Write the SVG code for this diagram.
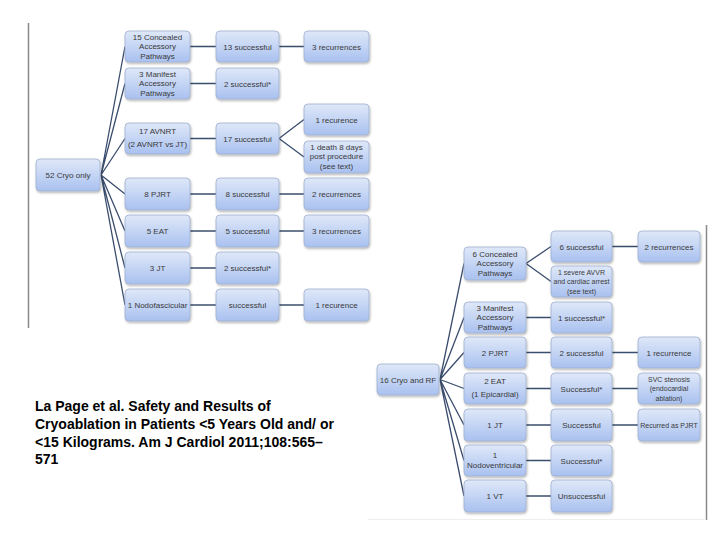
<svg xmlns="http://www.w3.org/2000/svg" width="720" height="540" viewBox="0 0 720 540">
<defs>
<linearGradient id="g" x1="0" y1="0" x2="0" y2="1">
<stop offset="0" stop-color="#dfe8f8"/>
<stop offset="1" stop-color="#a9c1f0"/>
</linearGradient>
<filter id="sh" x="-10%" y="-10%" width="130%" height="140%">
<feDropShadow dx="0.8" dy="1.5" stdDeviation="0.9" flood-color="#000" flood-opacity="0.3"/>
</filter>
<style>
.b{fill:url(#g);stroke:#9fb0cf;stroke-width:0.8;filter:url(#sh)}
.t{font-family:"Liberation Sans",Arial,sans-serif;font-size:8px;fill:#3a3a3a;text-anchor:middle}
.s{font-size:7px}
.c{fill:none;stroke:#3b4d6e;stroke-width:1.3}
.cap{font-family:"Liberation Sans",Arial,sans-serif;font-size:14px;font-weight:bold;fill:#000}
.frame{stroke:#8a8a8a;stroke-width:1.5;fill:none}
</style>
</defs>
<rect width="720" height="540" fill="#fff"/>
<line class="frame" x1="28.5" y1="23" x2="28.5" y2="328" stroke="#666"/>
<line class="frame" x1="706.5" y1="225" x2="706.5" y2="520" stroke-width="1.2"/>
<line x1="368" y1="519.5" x2="706" y2="519.5" stroke="#eeeeee" stroke-width="1"/>

<g id="connectors">
<path class="c" d="M101 175L125 46.5M101 175L125 83.5M101 175L125 138.5M101 175L125 194M101 175L125 231M101 175L125 268M101 175L125 305"/>
<path class="c" d="M190 46.5H216M279 46.5H304M190 83.5H216M190 138.5H216M279 138.5L304 119.5M279 138.5L304 157M190 194H216M279 194H304M190 231H216M279 231H304M190 268H216M190 305H216M279 305H304"/>
<path class="c" d="M440 379.5L464 263.5M440 379.5L464 317.5M440 379.5L464 352.5M440 379.5L464 388.5M440 379.5L464 425M440 379.5L464 460.5M440 379.5L464 496"/>
<path class="c" d="M526 263.5L551 246.5M526 263.5L551 281.5M612 246.5H638M526 317.5H551M526 352.5H551M612 352.5H638M526 388.5H551M612 388.5H638M526 425H551M612 425H638M526 460.5H551M526 496H551"/>
</g>

<g id="n52"><rect class="b" x="36" y="159" width="64" height="32" rx="4"/><text class="t" x="68" y="178">52 Cryo only</text></g>
<g id="l1a"><rect class="b" x="125" y="31" width="65" height="31" rx="4"/><text class="t" x="157.5" y="39.5">15 Concealed</text><text class="t" x="157.5" y="49">Accessory</text><text class="t" x="157.5" y="58.5">Pathways</text></g>
<g id="l1b"><rect class="b" x="216" y="31" width="63" height="31" rx="4"/><text class="t" x="247.5" y="49.5">13 successful</text></g>
<g id="l1c"><rect class="b" x="304" y="31" width="65" height="31" rx="4"/><text class="t" x="336.5" y="49.5">3 recurrences</text></g>
<g id="l2a"><rect class="b" x="125" y="68" width="65" height="31" rx="4"/><text class="t" x="157.5" y="76.5">3 Manifest</text><text class="t" x="157.5" y="86">Accessory</text><text class="t" x="157.5" y="95.5">Pathways</text></g>
<g id="l2b"><rect class="b" x="216" y="68" width="63" height="31" rx="4"/><text class="t" x="247.5" y="86.5">2 successful*</text></g>
<g id="l3a"><rect class="b" x="125" y="123" width="65" height="31" rx="4"/><text class="t" x="157.5" y="134">17 AVNRT</text><text class="t" x="157.5" y="147">(2 AVNRT vs JT)</text></g>
<g id="l3b"><rect class="b" x="216" y="123" width="63" height="31" rx="4"/><text class="t" x="247.5" y="141.5">17 successful</text></g>
<g id="l3c"><rect class="b" x="304" y="104" width="65" height="31" rx="4"/><text class="t" x="336.5" y="122.5">1 recurence</text></g>
<g id="l3d"><rect class="b" x="304" y="141" width="65" height="32" rx="4"/><text class="t" x="336.5" y="149.5">1 death 8 days</text><text class="t" x="336.5" y="159">post procedure</text><text class="t" x="336.5" y="168.5">(see text)</text></g>
<g id="l4a"><rect class="b" x="125" y="178" width="65" height="32" rx="4"/><text class="t" x="157.5" y="197">8 PJRT</text></g>
<g id="l4b"><rect class="b" x="216" y="178" width="63" height="32" rx="4"/><text class="t" x="247.5" y="197">8 successful</text></g>
<g id="l4c"><rect class="b" x="304" y="178" width="65" height="32" rx="4"/><text class="t" x="336.5" y="197">2 recurrences</text></g>
<g id="l5a"><rect class="b" x="125" y="215" width="65" height="32" rx="4"/><text class="t" x="157.5" y="234">5 EAT</text></g>
<g id="l5b"><rect class="b" x="216" y="215" width="63" height="32" rx="4"/><text class="t" x="247.5" y="234">5 successful</text></g>
<g id="l5c"><rect class="b" x="304" y="215" width="65" height="32" rx="4"/><text class="t" x="336.5" y="234">3 recurrences</text></g>
<g id="l6a"><rect class="b" x="125" y="252" width="65" height="32" rx="4"/><text class="t" x="157.5" y="271">3 JT</text></g>
<g id="l6b"><rect class="b" x="216" y="252" width="63" height="32" rx="4"/><text class="t" x="247.5" y="271">2 successful*</text></g>
<g id="l7a"><rect class="b" x="125" y="289" width="65" height="32" rx="4"/><text class="t" x="157.5" y="308">1 Nodofascicular</text></g>
<g id="l7b"><rect class="b" x="216" y="289" width="63" height="32" rx="4"/><text class="t" x="247.5" y="308">successful</text></g>
<g id="l7c"><rect class="b" x="304" y="289" width="65" height="32" rx="4"/><text class="t" x="336.5" y="308">1 recurence</text></g>

<g id="n16"><rect class="b" x="377" y="364" width="62" height="31" rx="4"/><text class="t" x="408" y="382.5">16 Cryo and RF</text></g>
<g id="r1a"><rect class="b" x="464" y="247" width="62" height="33" rx="4"/><text class="t" x="495" y="256.5">6 Concealed</text><text class="t" x="495" y="266">Accessory</text><text class="t" x="495" y="275.5">Pathways</text></g>
<g id="r1b"><rect class="b" x="551" y="231" width="61" height="31" rx="4"/><text class="t" x="581.5" y="249.5">6 successful</text></g>
<g id="r1c"><rect class="b" x="638" y="231" width="62" height="31" rx="4"/><text class="t" x="669" y="249.5">2 recurrences</text></g>
<g id="r1d"><rect class="b" x="551" y="266" width="61" height="31" rx="4"/><text class="t s" x="581.5" y="274.5">1 severe AVVR</text><text class="t s" x="581.5" y="284">and cardiac arrest</text><text class="t s" x="581.5" y="293.5">(see text)</text></g>
<g id="r2a"><rect class="b" x="464" y="302" width="62" height="31" rx="4"/><text class="t" x="495" y="310.5">3 Manifest</text><text class="t" x="495" y="320">Accessory</text><text class="t" x="495" y="329.5">Pathways</text></g>
<g id="r2b"><rect class="b" x="551" y="302" width="61" height="31" rx="4"/><text class="t" x="581.5" y="320.5">1 successful*</text></g>
<g id="r3a"><rect class="b" x="464" y="337" width="62" height="31" rx="4"/><text class="t" x="495" y="355.5">2 PJRT</text></g>
<g id="r3b"><rect class="b" x="551" y="337" width="61" height="31" rx="4"/><text class="t" x="581.5" y="355.5">2 successful</text></g>
<g id="r3c"><rect class="b" x="638" y="337" width="62" height="31" rx="4"/><text class="t" x="669" y="355.5">1 recurrence</text></g>
<g id="r4a"><rect class="b" x="464" y="373" width="62" height="31" rx="4"/><text class="t" x="495" y="384">2 EAT</text><text class="t" x="495" y="397">(1 Epicardial)</text></g>
<g id="r4b"><rect class="b" x="551" y="373" width="61" height="31" rx="4"/><text class="t" x="581.5" y="391.5">Successful*</text></g>
<g id="r4c"><rect class="b" x="638" y="373" width="62" height="31" rx="4"/><text class="t s" x="669" y="381.5">SVC stenosis</text><text class="t s" x="669" y="391">(endocardial</text><text class="t s" x="669" y="400.5">ablation)</text></g>
<g id="r5a"><rect class="b" x="464" y="409" width="62" height="32" rx="4"/><text class="t" x="495" y="428">1 JT</text></g>
<g id="r5b"><rect class="b" x="551" y="409" width="61" height="32" rx="4"/><text class="t" x="581.5" y="428">Successful</text></g>
<g id="r5c"><rect class="b" x="638" y="409" width="62" height="32" rx="4"/><text class="t s" x="669" y="428">Recurred as PJRT</text></g>
<g id="r6a"><rect class="b" x="464" y="445" width="62" height="31" rx="4"/><text class="t" x="495" y="458">1</text><text class="t" x="495" y="467.5">Nodoventricular</text></g>
<g id="r6b"><rect class="b" x="551" y="445" width="61" height="31" rx="4"/><text class="t" x="581.5" y="463.5">Successful*</text></g>
<g id="r7a"><rect class="b" x="464" y="480" width="62" height="32" rx="4"/><text class="t" x="495" y="499">1 VT</text></g>
<g id="r7b"><rect class="b" x="551" y="480" width="61" height="32" rx="4"/><text class="t" x="581.5" y="499">Unsuccessful</text></g>

<g id="caption">
<text class="cap" x="35" y="411">La Page et al. Safety and Results of</text>
<text class="cap" x="35" y="429">Cryoablation in Patients &lt;5 Years Old and/ or</text>
<text class="cap" x="35" y="447">&lt;15 Kilograms. Am J Cardiol 2011;108:565–</text>
<text class="cap" x="35" y="464">571</text>
</g>
</svg>
